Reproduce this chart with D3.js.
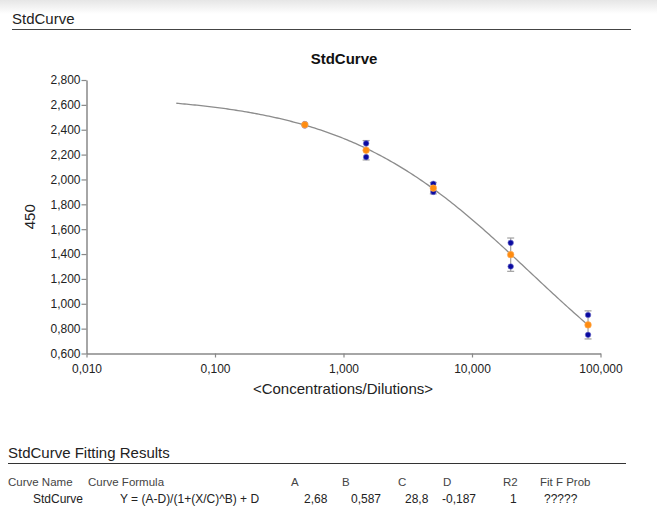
<!DOCTYPE html>
<html>
<head>
<meta charset="utf-8">
<script src="https://cdn.jsdelivr.net/npm/d3@7"></script>
<style>
  html, body { margin: 0; padding: 0; background: #fff; }
  svg { display: block; font-family: "Liberation Sans", Arial, sans-serif; }
</style>
</head>
<body>
<svg id="chart" width="657" height="510"></svg>
<script>
// Standard curve: concentrations, duplicate readings, their mean and SD
const concentrations = [0.5, 1.5, 5, 20, 80];
const replicateA = [2.445, 2.290, 1.965, 1.490, 0.910];
const replicateB = [2.435, 2.180, 1.900, 1.300, 0.750];
const means = [2.440, 2.235, 1.930, 1.395, 0.830];
const sds = [0.007, 0.078, 0.046, 0.134, 0.113];

// Four-parameter logistic fit
const fitNames = ["A", "B", "C", "D"];
const fitValues = [2.68, 0.587, 28.8, -0.187];
const fitLabels = ["2,68", "0,587", "28,8", "-0,187"];
const curveRange = [0.05, 80];

const xTicks = [0.01, 0.1, 1, 10, 100];
const yTicks = [0.6, 0.8, 1.0, 1.2, 1.4, 1.6, 1.8, 2.0, 2.2, 2.4, 2.6, 2.8];

const tableHeaders = ["Curve Name", "Curve Formula", "A", "B", "C", "D", "R2", "Fit F Prob"];
const tableRow = ["StdCurve", "Y = (A-D)/(1+(X/C)^B) + D", ...fitLabels, "1", "?????"];

const locale = d3.formatLocale({decimal: ",", thousands: ".", grouping: [3], currency: ["", ""]});
const fmt3 = locale.format(".3f");

const svg = d3.select("#chart");

// header band
const defs = svg.append("defs");
const grad = defs.append("linearGradient").attr("id", "band").attr("x1", 0).attr("y1", 0).attr("x2", 0).attr("y2", 1);
grad.append("stop").attr("offset", "0%").attr("stop-color", "#e6e6e6");
grad.append("stop").attr("offset", "100%").attr("stop-color", "#ffffff");
svg.append("rect").attr("x", 0).attr("y", 0).attr("width", 657).attr("height", 14).attr("fill", "url(#band)");

svg.append("text").attr("x", 12).attr("y", 24).attr("font-size", 15).attr("fill", "#222").text("StdCurve");
svg.append("line").attr("x1", 12).attr("x2", 631).attr("y1", 29.5).attr("y2", 29.5).attr("stroke", "#444").attr("stroke-width", 1.2);

svg.append("text").attr("x", 344).attr("y", 64).attr("text-anchor", "middle")
  .attr("font-size", 15).attr("font-weight", "bold").attr("fill", "#111").text("StdCurve");

const x = d3.scaleLog().domain([0.01, 100]).range([86.5, 600.5]);
const y = d3.scaleLinear().domain([0.6, 2.8]).range([353.5, 80]);

// axes
const xAxis = d3.axisBottom(x).tickValues(xTicks).tickFormat(fmt3).tickSize(4).tickSizeOuter(0);
const yAxis = d3.axisLeft(y).tickValues(yTicks).tickFormat(fmt3).tickSize(5).tickSizeOuter(0);

const gx = svg.append("g").attr("transform", `translate(0,${y(0.6)})`).call(xAxis);
const gy = svg.append("g").attr("transform", `translate(${x(0.01)},0)`).call(yAxis);
[gx, gy].forEach(g => {
  g.select(".domain").attr("stroke", "#888").attr("stroke-width", 1.5);
  g.selectAll(".tick line").attr("stroke", "#888").attr("stroke-width", 1.2);
  g.selectAll(".tick text").attr("font-size", 12).attr("fill", "#222").attr("font-family", "Liberation Sans, Arial, sans-serif");
});
gx.selectAll(".tick text").attr("dy", "1.05em");
gy.selectAll(".tick text").attr("x", -6);

svg.append("text").attr("transform", `translate(35,${(y(0.6) + y(2.8)) / 2}) rotate(-90)`)
  .attr("text-anchor", "middle").attr("font-size", 15).attr("fill", "#222").text("450");
svg.append("text").attr("x", 343).attr("y", 394).attr("text-anchor", "middle")
  .attr("font-size", 15).attr("fill", "#222").text("<Concentrations/Dilutions>");

// fitted curve
const [A, B, C, D] = fitValues;
const model = c => (A - D) / (1 + Math.pow(c / C, B)) + D;
const curvePts = d3.range(0, 201).map(i => {
  const lc = Math.log10(curveRange[0]) + i / 200 * (Math.log10(curveRange[1]) - Math.log10(curveRange[0]));
  const c = Math.pow(10, lc);
  return [c, model(c)];
});
svg.append("path").datum(curvePts)
  .attr("d", d3.line().x(d => x(d[0])).y(d => y(d[1])))
  .attr("fill", "none").attr("stroke", "#8c8c8c").attr("stroke-width", 1.3);

// error bars
const pts = concentrations.map((c, i) => ({c, a: replicateA[i], b: replicateB[i], m: means[i], s: sds[i]}));
const eb = svg.append("g").attr("stroke", "#a0a0a0").attr("stroke-width", 1.2);
pts.forEach(p => {
  const cx = x(p.c);
  eb.append("line").attr("x1", cx).attr("x2", cx).attr("y1", y(p.m - p.s)).attr("y2", y(p.m + p.s));
  eb.append("line").attr("x1", cx - 3.5).attr("x2", cx + 3.5).attr("y1", y(p.m + p.s)).attr("y2", y(p.m + p.s));
  eb.append("line").attr("x1", cx - 3.5).attr("x2", cx + 3.5).attr("y1", y(p.m - p.s)).attr("y2", y(p.m - p.s));
});

// replicate points
const reps = pts.flatMap(p => [{c: p.c, v: p.a}, {c: p.c, v: p.b}]);
svg.append("g").selectAll("circle").data(reps).join("circle")
  .attr("cx", d => x(d.c)).attr("cy", d => y(d.v)).attr("r", 2.8)
  .attr("fill", "#0a0aa0").attr("stroke", "#8080d0").attr("stroke-width", 0.6);

// mean points
svg.append("g").selectAll("circle").data(pts).join("circle")
  .attr("cx", d => x(d.c)).attr("cy", d => y(d.m)).attr("r", 3.3)
  .attr("fill", "#ff8c10").attr("stroke", "#ffb060").attr("stroke-width", 0.6);

// fitting results table
svg.append("text").attr("x", 8).attr("y", 458).attr("font-size", 15).attr("fill", "#222").text("StdCurve Fitting Results");
svg.append("line").attr("x1", 8).attr("x2", 626).attr("y1", 463.5).attr("y2", 463.5).attr("stroke", "#333").attr("stroke-width", 1.2);

const headerX = [8, 88, 291, 342, 398, 443, 503, 540];
const rowX = [33, 120, 304, 351, 405, 442, 510, 544];
svg.append("g").selectAll("text").data(tableHeaders).join("text")
  .attr("x", (d, i) => headerX[i]).attr("y", 486).attr("font-size", 11.5).attr("fill", "#444").text(d => d);
svg.append("g").selectAll("text").data(tableRow).join("text")
  .attr("x", (d, i) => rowX[i]).attr("y", 503).attr("font-size", 12).attr("fill", "#222").text(d => d);
</script>
</body>
</html>
